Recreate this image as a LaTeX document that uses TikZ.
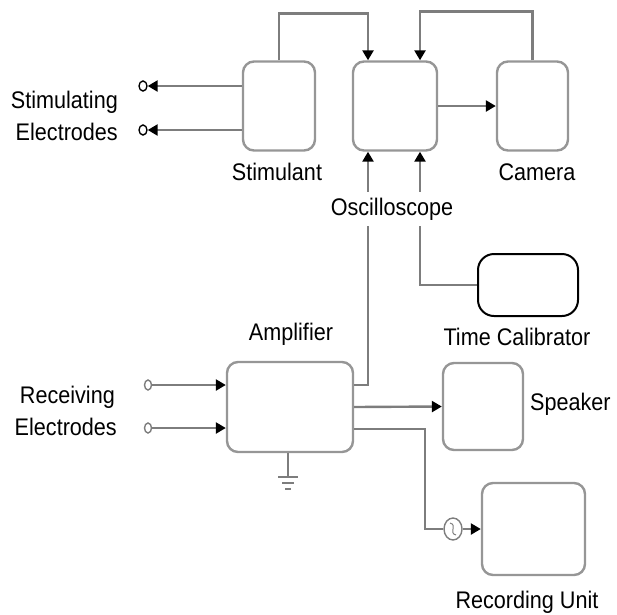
\documentclass[tikz,border=0pt]{standalone}
\usepackage{fontspec}
\setmainfont[FakeStretch=0.9]{Liberation Sans}
\usetikzlibrary{arrows.meta,calc,shapes.geometric}
\definecolor{wire}{RGB}{125,125,125}
\definecolor{boxedge}{RGB}{150,150,150}
\begin{document}
\begin{tikzpicture}[x=1pt,y=-1pt,
  font=\fontsize{24}{28}\selectfont,
  blk/.style={draw=boxedge,line width=2.4pt,rounded corners=11pt,inner sep=0pt,fill=white},
  lbl/.style={inner sep=0pt,text=black,anchor=base},
  wire/.style={draw=wire,line width=2.4pt},
  arr/.style={-{Triangle[length=10pt,width=11pt,color=black]}},
  term/.style={draw=black,line width=1.4pt,ellipse,inner sep=0pt,minimum width=7pt,minimum height=10pt,fill=white}
]
\useasboundingbox (0,0) rectangle (617,614);

% blocks
\node[blk,minimum width=72pt,minimum height=89pt] (stim) at (279,106) {};
\node[blk,minimum width=84pt,minimum height=89pt] (osc) at (395,106) {};
\node[blk,minimum width=71pt,minimum height=89pt] (cam) at (532.5,106) {};
\node[draw=black,line width=2pt,rounded corners=16pt,minimum width=100pt,minimum height=62pt,inner sep=0pt] (timecal) at (528,285) {};
\node[blk,minimum width=126pt,minimum height=90pt] (amp) at (290,407) {};
\node[blk,minimum width=80pt,minimum height=87pt] (spk) at (483,406.5) {};
\node[blk,minimum width=103pt,minimum height=92pt] (rec) at (533.5,529) {};

% terminals
\node[term,minimum width=8pt] (sc1) at (143,86) {};
\node[term,minimum width=8pt] (sc2) at (143,130) {};
\node[term,draw=wire] (rc1) at (148,385) {};
\node[term,draw=wire] (rc2) at (148,428) {};
\node[draw=wire,line width=1.4pt,ellipse,minimum width=18pt,minimum height=22pt,inner sep=0pt] (sw) at (453,529) {};
\draw[wire,line width=1pt] ($(sw.center)+(-3,-6)$) .. controls ($(sw.center)+(5,-4)$) and ($(sw.center)+(-5,4)$) .. ($(sw.center)+(3,6)$);

% connectors, top
\draw[wire,arr] (stim.north) -- ++(0,-47) -| ($(osc.north)+(-27,0)$);
\draw[wire,arr] (cam.north) -- ++(0,-49) -| ($(osc.north)+(25,0)$);
\draw[wire,arr] (osc.east) -- (cam.west);
\draw[wire,arr] (sc1 -| stim.west) -- (sc1.east);
\draw[wire,arr] (sc2 -| stim.west) -- (sc2.east);

% into the oscilloscope from below
\draw[wire,arr] ($(amp.east)+(0,-22)$) -| ($(osc.south)+(-27,0)$);
\draw[wire,arr] (timecal.west) -| ($(osc.south)+(25,0)$);

% amplifier
\draw[wire,arr] (rc1.east) -- (rc1 -| amp.west);
\draw[wire,arr] (rc2.east) -- (rc2 -| amp.west);
\draw[wire,arr] (amp.east) -- (spk.west);
\draw[wire] ($(amp.east)+(0,22)$) -- ++(71,0) |- (sw.west);
\draw[wire,arr] (sw.east) -- (rec.west);

% ground
\coordinate (gnd) at (288,477);
\draw[wire,line width=1.6pt] (gnd |- amp.south) -- (gnd);
\draw[wire,line width=1.6pt] ($(gnd)+(-10,0)$) -- ($(gnd)+(10,0)$);
\draw[wire,line width=1.6pt] ($(gnd)+(-6,6)$) -- ($(gnd)+(6,6)$);
\draw[wire,line width=1.6pt] ($(gnd)+(-3,12)$) -- ($(gnd)+(3,12)$);

% labels
\node[lbl,anchor=base east] (tStim1) at (118,108) {Stimulating};
\node[lbl,anchor=base east] (tStim2) at (118,140) {Electrodes};
\node[lbl] (tStimul) at (277,180) {Stimulant};
\node[lbl,fill=white,inner ysep=6pt,inner xsep=2pt] (tOsc) at (392,215) {Oscilloscope};
\node[lbl] (tCam) at (537,180) {Camera};
\node[lbl] (tTime) at (517,345) {Time Calibrator};
\node[lbl] (tAmp) at (291,340) {Amplifier};
\node[lbl,anchor=base east] (tRec1) at (115,403) {Receiving};
\node[lbl,anchor=base east] (tRec2) at (117,435) {Electrodes};
\node[lbl,anchor=base west] (tSpk) at (530,410) {Speaker};
\node[lbl] (tRecU) at (527,608) {Recording Unit};
\end{tikzpicture}
\end{document}
